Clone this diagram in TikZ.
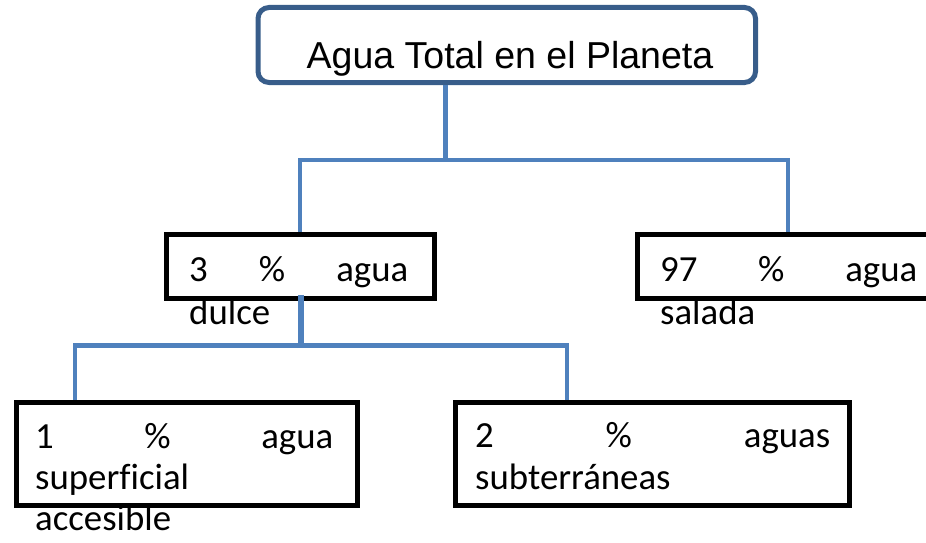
\documentclass[tikz,border=0pt]{standalone}
\usepackage{fontspec}
\setmainfont{Carlito}[Ligatures={NoCommon}]
\newfontfamily\arialf{Liberation Sans}
\definecolor{connblue}{RGB}{79,129,189}
\definecolor{topblue}{RGB}{56,93,138}
\begin{document}
\begin{tikzpicture}[x=1pt,y=-1pt,
  conn/.style={draw=connblue,line width=4.5pt},
  boxb/.style={draw=black,line width=5pt,rectangle,inner sep=0pt},
  topbox/.style={draw=topblue,line width=5pt,rectangle,rounded corners=11pt,inner sep=0pt},
  txt/.style={inner sep=0pt,anchor=base west,font=\fontsize{36.8}{42}\selectfont},
  ttl/.style={inner sep=0pt,anchor=base,font=\arialf\fontsize{37.5}{44}\selectfont}
]
\useasboundingbox (0,0) rectangle (926,543);
\clip (0,0) rectangle (926,543);

% top box
\node[topbox,minimum width=497.5pt,minimum height=75pt] (top) at (506.75,45) {};
\node[ttl] (tt) at (510,68) {Agua Total en el Planeta};

% coordinates
\coordinate (j1) at (445.5,160);
\coordinate (p3) at (300,234.5);
\coordinate (p97) at (788,234.5);
\coordinate (j2) at (300.5,345.5);
\coordinate (p1) at (75,402);
\coordinate (p2) at (567,402);
\coordinate (q3) at (300.5,295);

% level 1 connectors
\draw[conn] (top.south -| j1) -- (j1);
\draw[conn] (p3) |- (j1) -| (p97);

% level 2 connectors
\draw[conn] (p1) |- (j2) -| (p2);

% level 1 boxes
\node[boxb,minimum width=268pt,minimum height=64pt] (b3) at (300.5,266.5) {};
\node[boxb,minimum width=307.5pt,minimum height=64pt] (b97) at (791.25,266.5) {};

% level 2 boxes
\node[boxb,minimum width=341pt,minimum height=103.5pt] (b1) at (186.5,453.75) {};
\node[boxb,minimum width=394pt,minimum height=103.5pt] (b2) at (652,453.75) {};

% connector from 3% box down
\draw[conn,line width=6pt] (q3) -- (j2);

% texts
\node[txt] (t3a) at (189,281) {\hbox to 219pt{3\hfill\%\hfill agua}};
\node[txt] (t3b) at (189,324) {dulce};
\node[txt] (t97a) at (660,281) {\hbox to 257pt{97\hfill\%\hfill agua}};
\node[txt] (t97b) at (660,324) {salada};
\node[txt] (t1a) at (35,448) {\hbox to 298pt{1\hfill\%\hfill agua}};
\node[txt] (t1b) at (35,489) {superficial};
\node[txt] (t1c) at (35,530) {accesible};
\node[txt] (t2a) at (475,447) {\hbox to 355pt{2\hfill\%\hfill aguas}};
\node[txt] (t2b) at (475,489) {subterráneas};
\end{tikzpicture}
\end{document}
